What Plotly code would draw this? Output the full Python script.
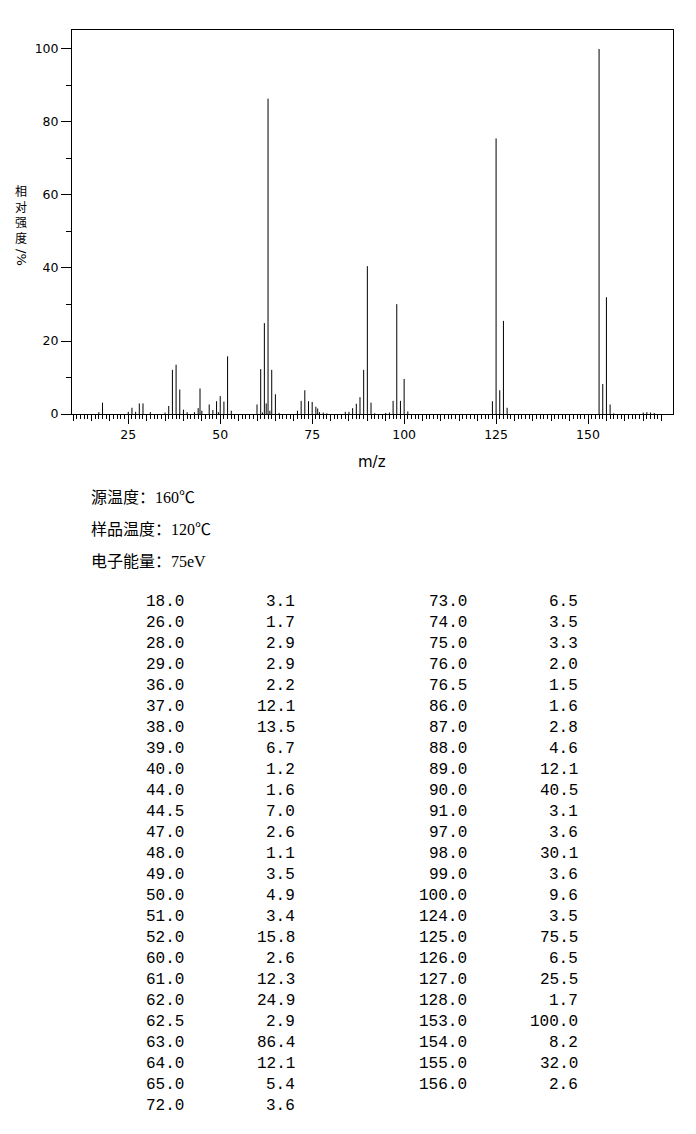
import plotly.graph_objects as go

# mass spectrum peaks (m/z, relative intensity %) as listed in the table
mz = [18.0, 26.0, 28.0, 29.0, 36.0, 37.0, 38.0, 39.0, 40.0, 44.0, 44.5, 47.0, 48.0,
      49.0, 50.0, 51.0, 52.0, 60.0, 61.0, 62.0, 62.5, 63.0, 64.0, 65.0, 72.0,
      73.0, 74.0, 75.0, 76.0, 76.5, 86.0, 87.0, 88.0, 89.0, 90.0, 91.0, 97.0,
      98.0, 99.0, 100.0, 124.0, 125.0, 126.0, 127.0, 128.0, 153.0, 154.0, 155.0, 156.0]
intensity = [3.1, 1.7, 2.9, 2.9, 2.2, 12.1, 13.5, 6.7, 1.2, 1.6, 7.0, 2.6, 1.1,
             3.5, 4.9, 3.4, 15.8, 2.6, 12.3, 24.9, 2.9, 86.4, 12.1, 5.4, 3.6,
             6.5, 3.5, 3.3, 2.0, 1.5, 1.6, 2.8, 4.6, 12.1, 40.5, 3.1, 3.6,
             30.1, 3.6, 9.6, 3.5, 75.5, 6.5, 25.5, 1.7, 100.0, 8.2, 32.0, 2.6]

# small peaks seen in the plot but not listed in the table (estimated)
minor_mz = [17, 25, 27, 31, 35, 41, 43, 45, 49.5, 53, 61.5, 63.5, 66, 71, 77, 78, 79,
            84, 85, 92, 95, 96, 101, 157, 165, 166, 167, 168]
minor_int = [0.5, 0.6, 0.6, 0.5, 0.4, 0.5, 0.5, 0.9, 0.5, 0.9, 0.4, 0.9, 0.3, 0.9, 0.5,
             0.4, 0.2, 0.6, 0.6, 0.2, 0.3, 0.4, 0.7, 0.2, 0.4, 0.5, 0.4, 0.3]

info_lines = ["源温度：160℃", "样品温度：120℃", "电子能量：75eV"]

# page has an 8px body margin, so the figure is drawn 8px in from the corner
OFF = 8
W, H = 696 - OFF, 1134 - OFF
L, R, T, B = 72 - OFF, 23, 30 - OFF, 720


def px(x):
    return (x - OFF - L) / (W - L - R)


def py(y):
    return (H - B - (y - OFF)) / (H - T - B)


def stems(xs, ys):
    sx, sy = [], []
    for x, y in zip(xs, ys):
        sx += [x, x, None]
        sy += [0, y, None]
    return sx, sy


fig = go.Figure()

ax, ay = stems(mz + minor_mz, intensity + minor_int)
fig.add_trace(go.Scatter(x=ax, y=ay, mode='lines', line=dict(color='black', width=1),
                         showlegend=False, hoverinfo='skip'))
# dummy trace for the medium (every 5) tick axis
fig.add_trace(go.Scatter(x=[None], y=[None], xaxis='x2', showlegend=False, hoverinfo='skip'))

XR = [9.7, 173.1]
tick_font = dict(family='DejaVu Sans', size=12.5, color='black')

fig.update_layout(
    width=W, height=H,
    margin=dict(l=L, r=R, t=T, b=B),
    paper_bgcolor='white', plot_bgcolor='white',
    xaxis=dict(range=XR, showgrid=False, zeroline=False,
               showline=True, linecolor='black', linewidth=1, mirror=True,
               tickmode='array', tickvals=[25, 50, 75, 100, 125, 150],
               ticks='outside', ticklen=9, tickcolor='black', tickwidth=1,
               tickfont=tick_font,
               minor=dict(tickmode='array', tickvals=list(range(10, 171)),
                          ticks='outside', ticklen=4, tickcolor='black', tickwidth=1)),
    xaxis2=dict(range=XR, overlaying='x', anchor='y', side='bottom',
                showgrid=False, zeroline=False, showline=False, showticklabels=False,
                tickmode='array', tickvals=list(range(10, 171, 5)),
                ticks='outside', ticklen=6, tickcolor='black', tickwidth=1),
    yaxis=dict(range=[0, 105.2], showgrid=False, zeroline=False,
               showline=True, linecolor='black', linewidth=1, mirror=True,
               tickmode='array', tickvals=[0, 20, 40, 60, 80, 100],
               ticks='outside', ticklen=10, tickcolor='black', tickwidth=1,
               tickfont=tick_font,
               minor=dict(tickmode='array', tickvals=[10, 30, 50, 70, 90],
                          ticks='outside', ticklen=5, tickcolor='black', tickwidth=1)),
)

ann = []
# axis titles
ann.append(dict(text='m/z', x=px(372), y=py(462), xref='paper', yref='paper',
                showarrow=False, xanchor='center', yanchor='middle',
                font=dict(family='DejaVu Sans', size=15, color='black')))
ann.append(dict(text='<br>'.join('相对强度'), x=px(21), y=py(214),
                xref='paper', yref='paper', showarrow=False,
                xanchor='center', yanchor='middle',
                font=dict(family='Noto Sans CJK SC', size=12, color='black')))
ann.append(dict(text='/%', x=px(21), y=py(257), xref='paper', yref='paper',
                showarrow=False, xanchor='center', yanchor='middle', textangle=90,
                font=dict(family='DejaVu Sans', size=13, color='black')))

# instrument info
for i, line in enumerate(info_lines):
    ann.append(dict(text=line, x=px(89), y=py(497 + 32 * i), xref='paper', yref='paper',
                    showarrow=False, xanchor='left', yanchor='middle',
                    font=dict(family='Liberation Serif, Noto Sans CJK SC', size=16, color='black')))

# peak table, two column pairs
n_left = 25
tab_font = dict(family='Liberation Mono', size=16, color='black')
for k, (m, v) in enumerate(zip(mz, intensity)):
    col = 0 if k < n_left else 1
    row = k if k < n_left else k - n_left
    yy = py(602 + 21.02 * row)
    xm, xv = (186, 297) if col == 0 else (469, 580)
    ann.append(dict(text=f'{m:.1f}', x=px(xm), y=yy, xref='paper', yref='paper',
                    showarrow=False, xanchor='right', yanchor='middle', font=tab_font))
    ann.append(dict(text=f'{v:.1f}', x=px(xv), y=yy, xref='paper', yref='paper',
                    showarrow=False, xanchor='right', yanchor='middle', font=tab_font))

fig.update_layout(annotations=ann)

fig.write_html("out.html")
